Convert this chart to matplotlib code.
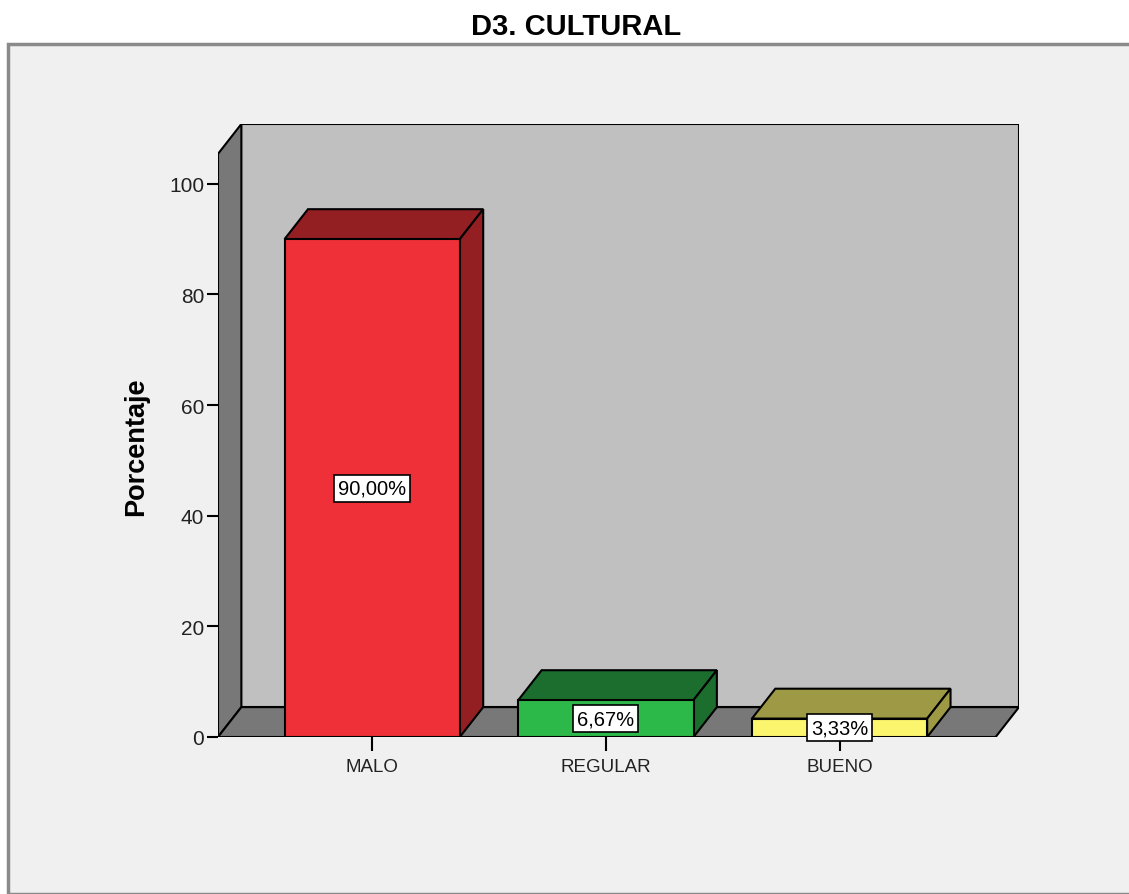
import matplotlib as mpl
mpl.use('Agg')

import matplotlib.pyplot as plt
from matplotlib.patches import Polygon, Rectangle

plt.rcParams['font.family'] = ['Liberation Sans', 'DejaVu Sans']

# Data
categories = ['MALO', 'REGULAR', 'BUENO']
percentages = [90.00, 6.67, 3.33]
labels = ['90,00%', '6,67%', '3,33%']
y_ticks = [0, 20, 40, 60, 80, 100]

front_colors = ['#ef3038', '#2db84a', '#fbf66e']
dark_colors = ['#941f22', '#1c6e2e', '#9d9944']

# 3D look: depth offset in data units, axis extents
dx, dy = 0.100, 5.4
x0, x1 = -0.66, 2.668
wall_top = 105.4
bar_w = 0.75

fig = plt.figure(figsize=(11.29, 8.95), dpi=100)
fig.patch.set_facecolor('white')

# grey panel behind the chart, like the SPSS output
panel = Rectangle((8 / 1129, 0), 1.0, 1 - 45 / 895, transform=fig.transFigure,
                  facecolor='#f0f0f0', edgecolor='#8a8a8a', linewidth=2.5, zorder=-10)
fig.patches.append(panel)

fig.text(576 / 1129, 1 - 27 / 895, 'D3. CULTURAL', ha='center', va='center',
         fontsize=21, fontweight='bold')

ax = fig.add_axes([218 / 1129, 1 - 738 / 895, (1019 - 218) / 1129, (738 - 125) / 895])
ax.set_xlim(x0, x1 + dx)
ax.set_ylim(0, wall_top + dy)
ax.patch.set_alpha(0)
for s in ax.spines.values():
    s.set_visible(False)

wall_kw = dict(edgecolor='black', linewidth=1.5, joinstyle='miter')

# back wall, left wall and floor
ax.add_patch(Polygon([(x0 + dx, dy), (x1 + dx, dy), (x1 + dx, wall_top + dy), (x0 + dx, wall_top + dy)],
                     closed=True, facecolor='#c0c0c0', zorder=1, **wall_kw))
ax.add_patch(Polygon([(x0, 0), (x0, wall_top), (x0 + dx, wall_top + dy), (x0 + dx, dy)],
                     closed=True, facecolor='#787878', zorder=2, **wall_kw))
ax.add_patch(Polygon([(x0, 0), (x1, 0), (x1 + dx, dy), (x0 + dx, dy)],
                     closed=True, facecolor='#787878', zorder=2, **wall_kw))

xs = list(range(len(categories)))
for x, v, fc, dc in zip(xs, percentages, front_colors, dark_colors):
    l, r = x - bar_w / 2, x + bar_w / 2
    # top and right side of the box
    ax.add_patch(Polygon([(l, v), (r, v), (r + dx, v + dy), (l + dx, v + dy)],
                         closed=True, facecolor=dc, zorder=3, **wall_kw))
    ax.add_patch(Polygon([(r, 0), (r + dx, dy), (r + dx, v + dy), (r, v)],
                         closed=True, facecolor=dc, zorder=3, **wall_kw))

ax.bar(xs, percentages, width=bar_w, color=front_colors, edgecolor='black',
       linewidth=1.5, zorder=4)

for x, v, lab in zip(xs, percentages, labels):
    ax.text(x, v / 2, lab, ha='center', va='center', fontsize=14.5, zorder=6,
            bbox=dict(boxstyle='square,pad=0.2', facecolor='white', edgecolor='black', linewidth=1.2))

ax.set_yticks(y_ticks)
ax.set_yticklabels([str(t) for t in y_ticks], fontsize=15, color='#222222')
ax.set_xticks(xs)
ax.set_xticklabels(categories, fontsize=13.5, color='#222222')
ax.tick_params(axis='y', length=8, width=1.5, pad=2)
ax.tick_params(axis='x', length=10, width=1.5, pad=5)

ax.set_ylabel('Porcentaje', fontsize=19.5, fontweight='bold')
# centred on the front part of the left wall, as in the original
ax.yaxis.set_label_coords(-0.086, 0.475)

fig.savefig('out.png', dpi=100, facecolor=fig.get_facecolor())
